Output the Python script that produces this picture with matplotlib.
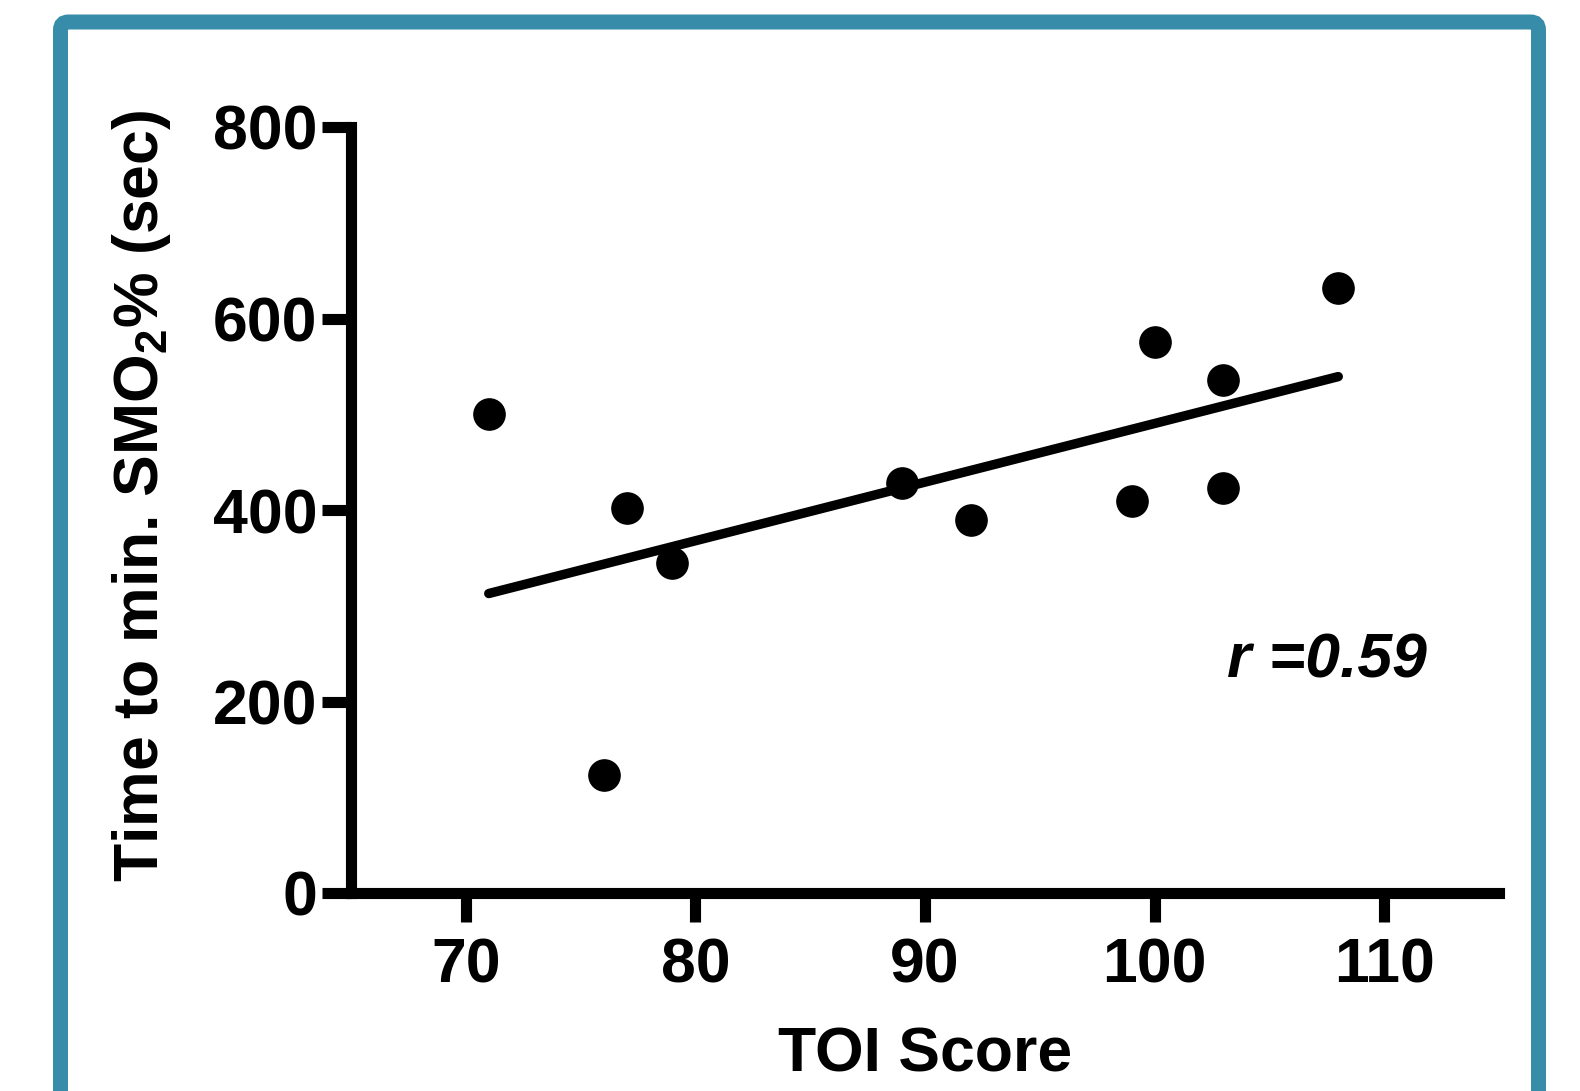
import numpy as np
import matplotlib
matplotlib.use('Agg')
import matplotlib.pyplot as plt
import matplotlib.patches as mpatches
from matplotlib.transforms import IdentityTransform

# values
toi_score = [71, 76, 77, 79, 89, 92, 99, 100, 103, 103, 108]
time_to_min = [500, 123, 402, 345, 428, 390, 409, 575, 536, 423, 632]
x_ticks = [70, 80, 90, 100, 110]
y_ticks = [0, 200, 400, 600, 800]
r_label = 'r =0.59'

plt.rcParams['font.family'] = ['Liberation Sans', 'DejaVu Sans']
plt.rcParams['font.weight'] = 'bold'
plt.rcParams['mathtext.fontset'] = 'custom'
plt.rcParams['mathtext.rm'] = 'Liberation Sans:bold'
plt.rcParams['mathtext.default'] = 'rm'

fig = plt.figure(figsize=(15.8, 10.91), dpi=100)
ax = fig.add_axes([351 / 1580, 1 - 893 / 1091, 1148 / 1580, 766 / 1091])

# teal frame round the whole panel (pixel coords)
frame = mpatches.FancyBboxPatch((60.5, -60), 1478, 1091 - 22 + 60,
                                boxstyle='round,pad=0,rounding_size=8',
                                transform=IdentityTransform(),
                                facecolor='none', edgecolor='#378da9',
                                linewidth=10.8, zorder=-5)
fig.patches.append(frame)

# regression line
slope, intercept = np.polyfit(toi_score, time_to_min, 1)
fit_x = np.array([min(toi_score), max(toi_score)])
ax.plot(fit_x, slope * fit_x + intercept, color='black', lw=6.8,
        solid_capstyle='round', zorder=2, clip_on=False)
ax.plot(toi_score, time_to_min, 'o', color='black', markersize=22.5, zorder=3,
        clip_on=False)

ax.set_xlim(65, 115)
ax.set_ylim(0, 800)
ax.set_xticks(x_ticks)
ax.set_yticks(y_ticks)

for side in ['top', 'right']:
    ax.spines[side].set_visible(False)
for side in ['left', 'bottom']:
    ax.spines[side].set_linewidth(8)
ax.tick_params(axis='both', direction='out', length=21, width=8,
               labelsize=45, color='black')
ax.tick_params(axis='x', pad=10)
ax.tick_params(axis='y', pad=3)
for lab in ax.get_xticklabels() + ax.get_yticklabels():
    lab.set_fontweight('bold')

ax.set_xlabel('TOI Score', fontsize=45, fontweight='bold', va='center')
ax.xaxis.set_label_coords(0.5, -0.2115)
ax.set_ylabel('Time to min. SMO$_2$% (sec)', fontsize=45, fontweight='bold',
              va='center')
ax.yaxis.set_label_coords((142 - 351) / 1148, (893 - 496) / 766)

ax.text(0.937, 0.2807, r_label, transform=ax.transAxes, ha='right',
        va='baseline', fontsize=45, fontweight='bold', style='italic')

fig.savefig('out.png', dpi=100, facecolor='white')
